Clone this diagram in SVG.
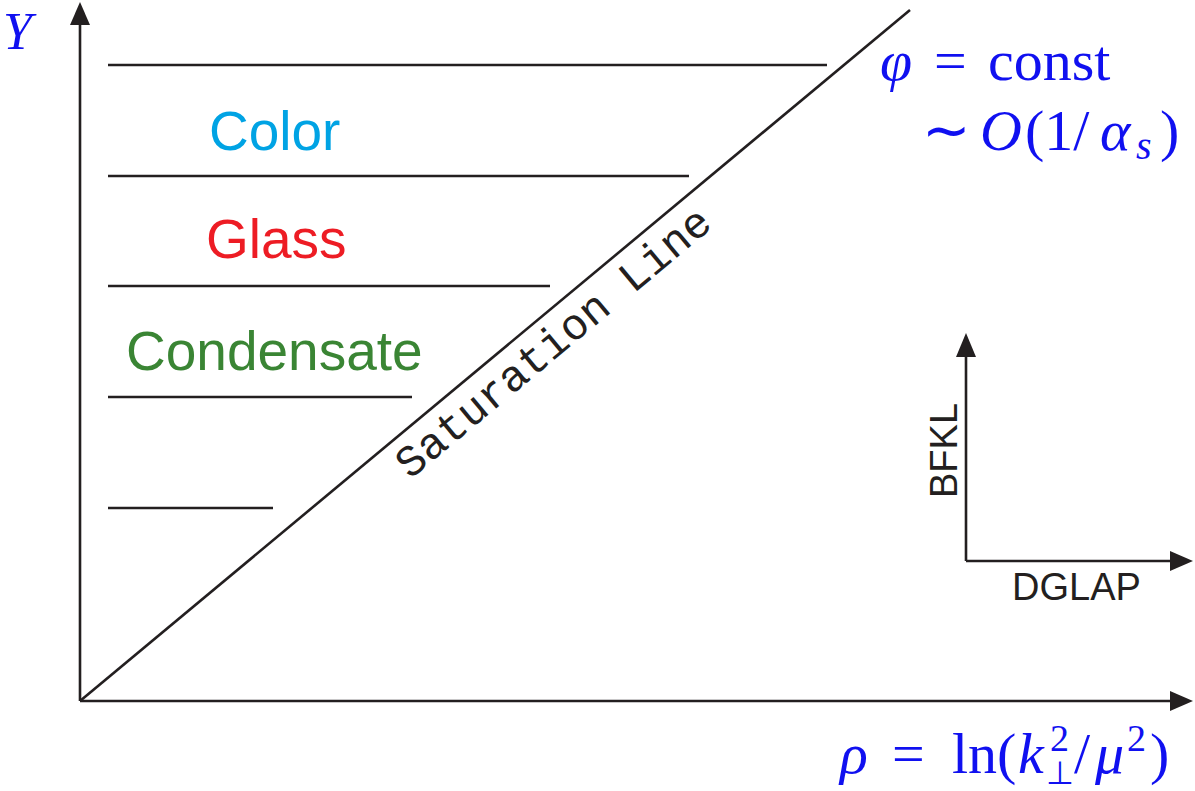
<svg xmlns="http://www.w3.org/2000/svg" width="1195" height="791" viewBox="0 0 1195 791">
<style>
.ln{stroke:#231f20;stroke-width:2.6;fill:none}
.ah{fill:#231f20}
.sans{font-family:"Liberation Sans",Arial,sans-serif}
.math{font-family:"Liberation Serif","Times New Roman",serif;fill:#1010f0}
.it{font-style:italic}
</style>
<rect width="1195" height="791" fill="#fff"/>
<g id="connectors">
<line class="ln" x1="80" y1="701" x2="80" y2="24"/>
<polygon class="ah" points="80,2 70,25 90,25"/>
<line class="ln" x1="80" y1="701" x2="1172" y2="701"/>
<polygon class="ah" points="1193,701 1170,691 1170,711"/>
<line class="ln" x1="80" y1="701" x2="910" y2="10"/>
<line class="ln" x1="108" y1="65" x2="827" y2="65"/>
<line class="ln" x1="108" y1="176" x2="689" y2="176"/>
<line class="ln" x1="108" y1="286" x2="550" y2="286"/>
<line class="ln" x1="108" y1="397" x2="412" y2="397"/>
<line class="ln" x1="108" y1="508" x2="273" y2="508"/>
<line class="ln" x1="966" y1="561" x2="966" y2="356"/>
<polygon class="ah" points="966,333 956,357 976,357"/>
<line class="ln" x1="966" y1="561" x2="1172" y2="561"/>
<polygon class="ah" points="1193,561 1170,551 1170,571"/>
</g>
<g id="labels">
<text class="sans" x="209" y="150" font-size="55" fill="#00a3e4">Color</text>
<text class="sans" x="206" y="258" font-size="55" fill="#ed1c24">Glass</text>
<text class="sans" x="126" y="370" font-size="55" fill="#3a8534">Condensate</text>
<text x="0" y="0" font-family="'Liberation Mono','Courier New',monospace" font-size="44" fill="#231f20" transform="translate(410,480) rotate(-39.78)">Saturation Line</text>
<text class="sans" x="0" y="0" font-size="38" fill="#231f20" transform="translate(957,498) rotate(-90)">BFKL</text>
<text class="sans" x="1012" y="600" font-size="38" fill="#231f20">DGLAP</text>
<text class="math it" x="3" y="49" font-size="52">Y</text>
<text class="math" y="80" font-size="58"><tspan class="it" x="880">φ</tspan><tspan x="934">=</tspan><tspan x="988">const</tspan></text>
<text class="math" y="150" font-size="58"><tspan x="922">∼</tspan><tspan class="it" x="980">O</tspan><tspan x="1025">(1/</tspan><tspan class="it" x="1100">α</tspan><tspan class="it" font-size="40" x="1136" dy="9">s</tspan><tspan x="1160" dy="-9">)</tspan></text>
<text class="math" y="773" font-size="58"><tspan class="it" x="840">ρ</tspan><tspan x="892">=</tspan><tspan x="952">ln(</tspan><tspan class="it" x="1018">k</tspan><tspan font-size="38" x="1050" dy="-22">2</tspan><tspan font-size="32" x="1046" dy="33">⊥</tspan><tspan x="1074" dy="-11">/</tspan><tspan class="it" x="1095">μ</tspan><tspan font-size="38" x="1127" dy="-22">2</tspan><tspan x="1150" dy="22">)</tspan></text>
</g>
</svg>
